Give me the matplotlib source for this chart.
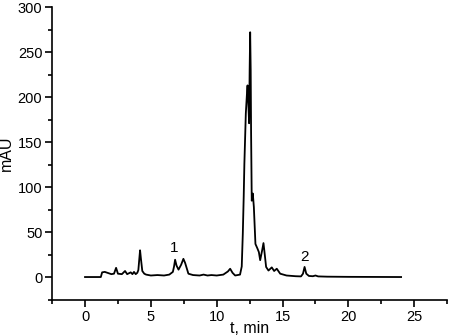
import numpy as np
import matplotlib.pyplot as plt
from matplotlib.ticker import MultipleLocator

plt.rcParams['font.family'] = ['Liberation Sans', 'DejaVu Sans']

# retention time (min) and absorbance (mAU)
t = [0.0, 1.2, 1.3, 1.5, 1.8, 2.0, 2.2, 2.36, 2.5, 2.8, 3.04, 3.2, 3.47, 3.6, 3.72,
     3.85, 3.97, 4.05, 4.12, 4.18, 4.25, 4.35, 4.5, 4.64, 5.0, 5.5, 6.0, 6.4, 6.67,
     6.76, 6.84, 6.95, 7.1, 7.3, 7.47, 7.6, 7.85, 8.2, 8.7, 9.0, 9.3, 9.6, 10.0,
     10.5, 10.85, 11.02, 11.2, 11.4, 11.77, 11.9, 11.98, 12.05, 12.1, 12.21, 12.3,
     12.34, 12.39, 12.46, 12.5, 12.54, 12.58, 12.61, 12.66, 12.74, 12.82, 12.94,
     13.09, 13.2, 13.3, 13.45, 13.55, 13.65, 13.75, 13.93, 14.18, 14.36, 14.56,
     14.82, 15.3, 16.0, 16.4, 16.55, 16.67, 16.8, 17.0, 17.3, 17.5, 17.7, 18.4,
     20.0, 22.0, 24.0]
mau = [0.3, 0.3, 5.5, 6.0, 4.5, 3.5, 4.0, 10.5, 4.0, 3.5, 7.0, 3.5, 5.5, 3.5, 6.0,
       3.5, 5.0, 8.0, 20.0, 30.0, 20.0, 7.0, 4.0, 3.0, 2.0, 2.5, 2.0, 3.0, 6.0,
       12.0, 19.5, 13.0, 8.5, 14.0, 20.5, 16.0, 4.0, 2.5, 2.0, 3.0, 2.0, 2.5, 2.0,
       3.0, 6.5, 9.5, 5.0, 2.0, 3.0, 12.0, 48.0, 90.0, 126.0, 182.0, 205.0,
       213.0, 197.0, 171.0, 230.0, 272.0, 230.0, 160.0, 85.0, 93.0, 78.0, 37.0,
       32.0, 28.0, 19.0, 30.0, 38.0, 25.0, 11.5, 7.5, 11.0, 7.0, 9.5,
       4.0, 2.0, 1.2, 1.0, 4.0, 11.5, 4.0, 1.5, 1.2, 2.0, 1.0, 0.7,
       0.5, 0.4, 0.3]

peak_labels = ['1', '2']
peak_t = [6.76, 16.7]
peak_y = [32, 22]

fig = plt.figure(figsize=(4.49, 3.35), dpi=100)
ax = fig.add_axes([0.116, 0.105, 0.880, 0.874])

ax.plot(t, mau, color='black', lw=1.3)
for lab, x, y in zip(peak_labels, peak_t, peak_y):
    ax.text(x, y, lab, ha='center', va='center', fontsize=11)

ax.set_xlim(-2.5, 27.5)
ax.set_ylim(-25, 300)
ax.xaxis.set_major_locator(MultipleLocator(5))
ax.xaxis.set_minor_locator(MultipleLocator(2.5))
ax.yaxis.set_major_locator(MultipleLocator(50))
ax.yaxis.set_minor_locator(MultipleLocator(25))
ax.tick_params(which='both', direction='out', width=1.2, labelsize=10.5)
ax.tick_params(which='major', length=5, pad=2)
ax.tick_params(which='minor', length=3)
ax.spines['top'].set_visible(False)
ax.spines['right'].set_visible(False)
ax.spines['left'].set_linewidth(1.2)
ax.spines['bottom'].set_linewidth(1.2)
ax.set_xlabel('t, min', fontsize=11.5, labelpad=-2)
ax.set_ylabel('mAU', fontsize=11.5, labelpad=3)

fig.savefig('out.png', dpi=100)
